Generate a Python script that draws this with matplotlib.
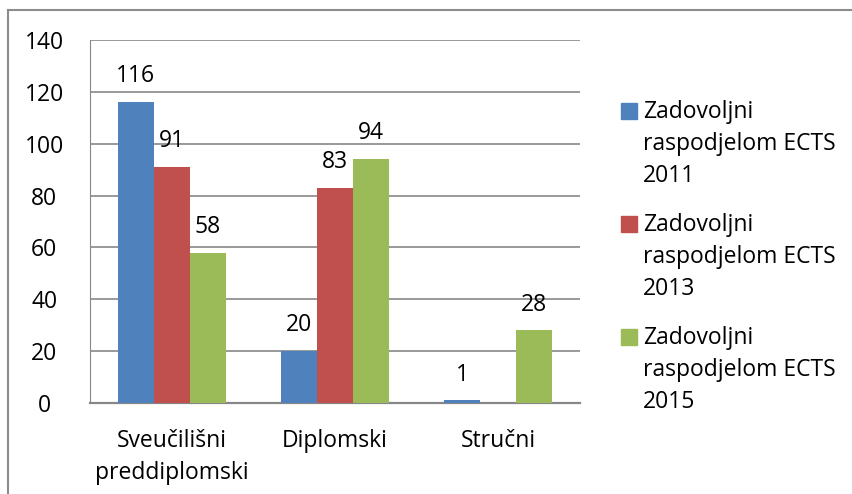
import numpy as np
import matplotlib
matplotlib.use('Agg')
import matplotlib.pyplot as plt
from matplotlib.lines import Line2D
from matplotlib.patches import Rectangle

plt.rcParams['font.family'] = ['Open Sans', 'DejaVu Sans']

categories = ['Sveučilišni\npreddiplomski', 'Diplomski', 'Stručni']
series_names = ['Zadovoljni\nraspodjelom ECTS\n2011',
                'Zadovoljni\nraspodjelom ECTS\n2013',
                'Zadovoljni\nraspodjelom ECTS\n2015']
values_2011 = [116, 20, 1]
values_2013 = [91, 83, np.nan]
values_2015 = [58, 94, 28]
colors = ['#4f81bd', '#c0504d', '#9bbb59']
yticks = [0, 20, 40, 60, 80, 100, 120, 140]

fs = 16.5
fig = plt.figure(figsize=(8.52, 4.94), dpi=100)
ax = fig.add_axes([90 / 852, 1 - 403 / 494, 490 / 852, 363 / 494])

x = np.arange(len(categories))
w = 0.22
allvals = [values_2011, values_2013, values_2015]
for i, vals in enumerate(allvals):
  bars = ax.bar(x + (i - 1) * w, vals, w, color=colors[i], zorder=3)
  labels = ['' if np.isnan(v) else '%d' % v for v in np.array(vals, dtype=float)]
  ax.bar_label(bars, labels=labels, padding=10, fontsize=fs, color='black')

ax.set_xlim(-0.5, 2.5)
ax.set_ylim(0, 140)
ax.set_yticks(yticks)
ax.yaxis.grid(True, color='#878787', linewidth=1.2, zorder=0)
ax.set_axisbelow(True)
for s in ['top', 'right']:
  ax.spines[s].set_visible(False)
ax.spines['left'].set_color('#878787')
ax.spines['bottom'].set_color('#878787')
ax.spines['bottom'].set_linewidth(1.6)
ax.set_xticks(x)
ax.set_xticklabels(categories, fontsize=fs, linespacing=1.45)
ax.tick_params(axis='x', length=0, pad=19)
ax.tick_params(axis='y', length=0, pad=33, labelsize=fs)
for t in ax.get_yticklabels():
  t.set_horizontalalignment('center')

# legend drawn by hand so the swatch sits on the first text line
for i, name in enumerate(series_names):
  ytop = 1 - (103 + i * 113) / 494
  fig.patches.append(Rectangle((621 / 852, ytop - 16 / 494), 16 / 852, 16 / 494,
                               transform=fig.transFigure, color=colors[i]))
  fig.text(643 / 852, ytop + 3 / 494, name, fontsize=fs, va='top', ha='left',
           linespacing=1.45)

# chart frame
fig.lines.append(Line2D([8 / 852, 1], [1 - 10 / 494, 1 - 10 / 494], transform=fig.transFigure,
                        color='#8c8c8c', linewidth=1.5))
fig.lines.append(Line2D([8 / 852, 8 / 852], [0, 1 - 10 / 494], transform=fig.transFigure,
                        color='#8c8c8c', linewidth=1.5))

fig.savefig('out.png', dpi=100)
